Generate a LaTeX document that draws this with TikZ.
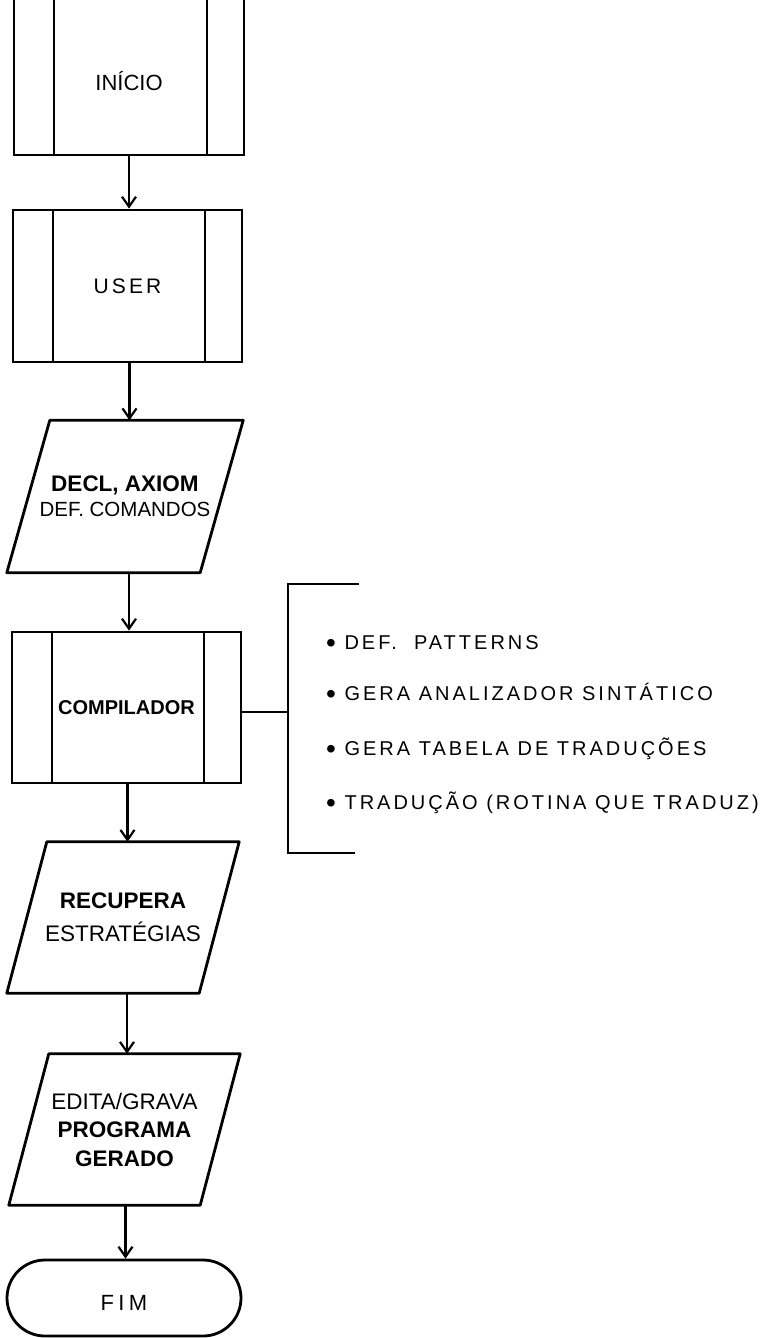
\documentclass[tikz,border=0pt]{standalone}
\usepackage{fontspec}
\setmainfont{Liberation Sans}
\newfontfamily\spacedfont[LetterSpace=15]{Liberation Sans}
\newfontfamily\widefont[LetterSpace=20]{Liberation Sans}
\usetikzlibrary{arrows.meta,shapes.misc,calc}
\newcommand\paraout[2]{\draw[outl] ([xshift=#2pt]#1.north west) -- (#1.north east) -- ([xshift=-#2pt]#1.south east) -- (#1.south west) -- cycle;}
\newcommand\bigbul{\raisebox{-2.5pt}{\fontsize{28}{28}\selectfont •}}
\begin{document}
\begin{tikzpicture}[x=1pt,y=-1pt,
  outl/.style={line width=2.8pt, line join=round},
  boxtext/.style={font=\fontsize{21}{26}\selectfont, align=center, inner sep=0pt},
  procbox/.style={boxtext, draw, line width=2.8pt, minimum width=229pt, minimum height=152pt,
    path picture={
      \draw[line width=2.8pt] ([xshift=40pt]path picture bounding box.north west) -- ([xshift=40pt]path picture bounding box.south west);
      \draw[line width=2.8pt] ([xshift=-37pt]path picture bounding box.north east) -- ([xshift=-37pt]path picture bounding box.south east);
    }},
  parabox/.style={boxtext, minimum height=152pt},
  arr/.style={line width=2.2pt, -{Straight Barb[length=10pt,width=14pt]}},
  brk/.style={line width=2.2pt},
  bul/.style={font=\spacedfont\fontsize{20}{24}\selectfont, inner sep=0pt, anchor=base west}
]
\useasboundingbox (0,0) rectangle (768,1338);
\clip (0,0) rectangle (768,1338);

% process boxes
\node[procbox, minimum width=230pt, minimum height=168pt,
  label={[font=\fontsize{22}{26}\selectfont, yshift=-10pt]center:INÍCIO}] (inicio) at (129,71) {};
\node[procbox] (user) at (127.5,286) {{\spacedfont USER}};

% DECL parallelogram
\node[parabox, minimum width=236pt, font=\fontsize{22.5}{25}\selectfont] (decl) at (125,496.5) {{\bfseries DECL, AXIOM}\\{\fontsize{20.5}{25}\selectfont DEF. COMANDOS}};
\paraout{decl}{43}

\node[procbox, minimum height=151pt, font=\bfseries\fontsize{20}{24}\selectfont] (comp) at (126.5,707.5) {COMPILADOR};

\node[parabox, minimum width=232pt, minimum height=151pt, font=\fontsize{22.5}{33}\selectfont] (recup) at (123,917.5) {{\bfseries RECUPERA}\\ESTRATÉGIAS};
\paraout{recup}{40}

\node[parabox, minimum width=231pt, minimum height=151pt, font=\fontsize{22.5}{28.5}\selectfont] (edita) at (124.5,1129.5) {EDITA/GRAVA\\{\bfseries PROGRAMA}\\{\bfseries GERADO}};
\paraout{edita}{40}

\node[rounded rectangle, draw, line width=2.8pt, minimum width=234pt, minimum height=76pt, inner sep=0pt,
  label={[font=\widefont\fontsize{22}{26}\selectfont, yshift=-5pt]center:FIM}] (fim) at (124,1298) {};

% arrows
\draw[arr] (inicio.south) -- (inicio.south |- user.north);
\draw[arr] (user.south) ++(2,0) coordinate (u1) -- (u1 |- decl.north);
\draw[arr] (decl.south) ++(4,0) coordinate (d1) -- (d1 |- comp.north);
\draw[arr] (comp.south) ++(1,0) coordinate (c1) -- (c1 |- recup.north);
\draw[arr] (recup.south) ++(4,0) coordinate (r1) -- (r1 |- edita.north);
\draw[arr] (edita.south) ++(1,0) coordinate (e1) -- (e1 |- fim.north);

% bracket
\coordinate (jn) at (288,712);
\coordinate (btop) at (288,584);
\coordinate (bbot) at (288,853);
\coordinate (btopend) at (359,584);
\coordinate (bbotend) at (355,853);
\draw[brk] (btopend) -- (btop) -- (bbot) -- (bbotend);
\draw[brk] (jn -| comp.east) -- (jn);

% bullet list
\node[bul] (b1) at (326,649.5) {\bigbul\ DEF.\ \ PATTERNS};
\node[bul] (b2) at (326,700.5) {\bigbul\ GERA ANALIZADOR SINTÁTICO};
\node[bul] (b3) at (326,755.5) {\bigbul\ GERA TABELA DE TRADUÇÕES};
\node[bul] (b4) at (326,809.5) {\bigbul\ TRADUÇÃO (ROTINA QUE TRADUZ)};
\end{tikzpicture}
\end{document}
